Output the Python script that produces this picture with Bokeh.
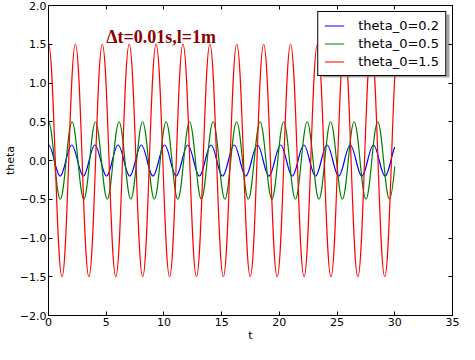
from bokeh.plotting import figure
from bokeh.models import (Range1d, LinearAxis, FixedTicker, Label, ColumnDataSource,
                          CustomJSTickFormatter, BoxAnnotation)
from bokeh.embed import file_html
from bokeh.resources import INLINE

# ---- data: times (s) and values (rad) of the extrema ----
# (last time in each list is the next extremum just past the end of the run)
T_END = 30.0

BLUE_T = [0.00, 1.01, 2.01, 3.02, 4.02, 5.03, 6.03, 7.04, 8.04, 9.05, 10.06,
          11.06, 12.07, 13.07, 14.08, 15.08, 16.09, 17.09, 18.10, 19.10, 20.11,
          21.12, 22.12, 23.13, 24.13, 25.14, 26.14, 27.15, 28.15, 29.16, 30.17]
BLUE_V = [0.2, -0.2, 0.2, -0.2, 0.2, -0.2, 0.2, -0.2, 0.2, -0.2, 0.2,
          -0.2, 0.2, -0.2, 0.2, -0.2, 0.2, -0.2, 0.2, -0.2, 0.2,
          -0.2, 0.2, -0.2, 0.2, -0.2, 0.2, -0.2, 0.2, -0.2, 0.2]

GREEN_T = [0.00, 1.02, 2.04, 3.06, 4.07, 5.09, 6.11, 7.13, 8.15, 9.17, 10.19,
           11.20, 12.22, 13.24, 14.26, 15.28, 16.30, 17.31, 18.33, 19.35, 20.37,
           21.39, 22.41, 23.43, 24.44, 25.46, 26.48, 27.50, 28.52, 29.54, 30.56]
GREEN_V = [0.5, -0.5, 0.5, -0.5, 0.5, -0.5, 0.5, -0.5, 0.5, -0.5, 0.5,
           -0.5, 0.5, -0.5, 0.5, -0.5, 0.5, -0.5, 0.5, -0.5, 0.5,
           -0.5, 0.5, -0.5, 0.5, -0.5, 0.5, -0.5, 0.5, -0.5, 0.5]

RED_T = [0.00, 1.17, 2.33, 3.50, 4.66, 5.83, 6.99, 8.16, 9.32, 10.49, 11.65,
         12.82, 13.98, 15.15, 16.31, 17.48, 18.64, 19.81, 20.97, 22.14, 23.30,
         24.47, 25.63, 26.80, 27.96, 29.13, 30.29]
RED_V = [1.5, -1.5, 1.5, -1.5, 1.5, -1.5, 1.5, -1.5, 1.5, -1.5, 1.5,
         -1.5, 1.5, -1.5, 1.5, -1.5, 1.5, -1.5, 1.5, -1.5, 1.5,
         -1.5, 1.5, -1.5, 1.5, -1.5, 1.5]

LABELS = ["theta_0=0.2", "theta_0=0.5", "theta_0=1.5"]
COLORS = ["#0000ff", "#008000", "#ff0000"]
SHAPE = [0.3634, 0.365, 0.40]   # bezier handle fraction (wave shape)

X_TICKS = [0, 5, 10, 15, 20, 25, 30, 35]
Y_TICKS = [-2.0, -1.5, -1.0, -0.5, 0.0, 0.5, 1.0, 1.5, 2.0]
Y_TICK_LABELS = ["\u22122.0", "\u22121.5", "\u22121.0", "\u22120.5", "0.0",
                 "0.5", "1.0", "1.5", "2.0"]
NOTE = "\u0394t=0.01s,l=1m"
X0, X1, Y0, Y1 = 0, 35, -2, 2

# ---- layout (pixels) ----
W, H = 459, 344
B_LEFT, B_RIGHT, B_TOP, B_BOTTOM = 48, 7, 5, 29
LEG_MARGIN, LEG_PAD, LEG_GLYPH_W, LEG_STANDOFF, LEG_ROW, LEG_SPACING = 6, 6, 20, 14, 15, 3
LEG_TEXT_W = 81          # measured width of "theta_0=0.2" at 13px
SHADOW = 3


def lerp(a, b, s):
    return (a[0] + (b[0] - a[0]) * s, a[1] + (b[1] - a[1]) * s)


def bez_x(x0, x1, x2, x3, s):
    u = 1 - s
    return u * u * u * x0 + 3 * u * u * s * x1 + 3 * u * s * s * x2 + s * s * s * x3


def segments(ts, vs, a, t_end):
    d = {k: [] for k in ("x0", "y0", "x1", "y1", "cx0", "cy0", "cx1", "cy1")}
    for i in range(len(ts) - 1):
        P0 = (ts[i], vs[i])
        P3 = (ts[i + 1], vs[i + 1])
        if P0[0] >= t_end:
            break
        h = P3[0] - P0[0]
        P1 = (P0[0] + a * h, P0[1])
        P2 = (P3[0] - a * h, P3[1])
        if P3[0] > t_end:
            lo, hi = 0.0, 1.0
            for _ in range(60):
                mid = (lo + hi) / 2
                if bez_x(P0[0], P1[0], P2[0], P3[0], mid) < t_end:
                    lo = mid
                else:
                    hi = mid
            s = (lo + hi) / 2
            P01 = lerp(P0, P1, s)
            P12 = lerp(P1, P2, s)
            P23 = lerp(P2, P3, s)
            P012 = lerp(P01, P12, s)
            P123 = lerp(P12, P23, s)
            P0123 = lerp(P012, P123, s)
            P1, P2, P3 = P01, P012, P0123
        d["x0"].append(P0[0]); d["y0"].append(P0[1])
        d["cx0"].append(P1[0]); d["cy0"].append(P1[1])
        d["cx1"].append(P2[0]); d["cy1"].append(P2[1])
        d["x1"].append(P3[0]); d["y1"].append(P3[1])
    return ColumnDataSource(d)


FONT = "DejaVu Sans"

p = figure(width=W, height=H, output_backend="svg", toolbar_location=None,
           x_range=Range1d(X0, X1), y_range=Range1d(Y0, Y1),
           x_axis_label="t", y_axis_label="theta",
           min_border_left=B_LEFT, min_border_right=B_RIGHT,
           min_border_top=B_TOP, min_border_bottom=B_BOTTOM)
p.xgrid.visible = False
p.ygrid.visible = False
p.outline_line_color = "black"
p.outline_line_alpha = 1.0
p.background_fill_color = "white"
p.border_fill_color = "white"

series = [(BLUE_T, BLUE_V), (GREEN_T, GREEN_V), (RED_T, RED_V)]
for (ts, vs), lab, col, a in zip(series, LABELS, COLORS, SHAPE):
    src = segments(ts, vs, a, T_END)
    p.bezier(x0="x0", y0="y0", x1="x1", y1="y1", cx0="cx0", cy0="cy0",
             cx1="cx1", cy1="cy1", source=src, line_color=col, line_width=1.2,
             legend_label=lab)

p.xaxis.ticker = FixedTicker(ticks=X_TICKS)
p.yaxis.ticker = FixedTicker(ticks=Y_TICKS)
p.yaxis.major_label_overrides = {v: s for v, s in zip(Y_TICKS, Y_TICK_LABELS)}

for ax in (p.xaxis[0], p.yaxis[0]):
    ax.major_tick_in = 4
    ax.major_tick_out = 0
    ax.minor_tick_in = 0
    ax.minor_tick_out = 0
    ax.axis_line_color = "black"
    ax.major_tick_line_color = "black"
    ax.major_label_text_font = FONT
    ax.major_label_text_font_size = "11px"
    ax.major_label_text_color = "black"
    ax.axis_label_text_font = FONT
    ax.axis_label_text_font_size = "11px"
    ax.axis_label_text_font_style = "normal"
    ax.axis_label_text_color = "black"
p.xaxis.major_label_standoff = 2
p.xaxis.axis_label_standoff = 0
p.yaxis.major_label_standoff = 2
p.yaxis.axis_label_standoff = 0

for loc, ticks in (("right", Y_TICKS), ("above", X_TICKS)):
    ax = LinearAxis(ticker=FixedTicker(ticks=ticks),
                    formatter=CustomJSTickFormatter(code="return ''"),
                    major_tick_in=4, major_tick_out=0, minor_tick_in=0, minor_tick_out=0,
                    major_label_standoff=0, major_label_text_font_size="1px",
                    axis_label_standoff=0,
                    axis_line_color="black", major_tick_line_color="black")
    p.add_layout(ax, loc)

p.add_layout(Label(x=5, y=1.6, text=NOTE, text_font="Liberation Serif",
                   text_font_size="18px", text_font_style="bold",
                   text_color="#8b0000", text_baseline="alphabetic"))

# legend shadow (matplotlib style), placed from the layout constants
fw = W - B_LEFT - B_RIGHT
fh = H - B_TOP - B_BOTTOM
sx = (X1 - X0) / fw
sy = (Y1 - Y0) / fh
leg_w = 2 * LEG_PAD + LEG_GLYPH_W + LEG_STANDOFF + LEG_TEXT_W
leg_h = 2 * LEG_PAD + 3 * LEG_ROW + 2 * LEG_SPACING
r_px = fw - LEG_MARGIN + SHADOW
l_px = r_px - leg_w
t_px = LEG_MARGIN + SHADOW
b_px = t_px + leg_h
p.add_layout(BoxAnnotation(left=X0 + l_px * sx, right=X0 + r_px * sx,
                           top=Y1 - t_px * sy, bottom=Y1 - b_px * sy,
                           fill_color="#4d4d4d", fill_alpha=0.5, line_color=None,
                           level="glyph"))

lg = p.legend[0]
lg.location = "top_right"
lg.margin = LEG_MARGIN
lg.padding = LEG_PAD
lg.spacing = LEG_SPACING
lg.glyph_width = LEG_GLYPH_W
lg.glyph_height = LEG_ROW
lg.label_height = LEG_ROW
lg.label_width = 20
lg.label_standoff = LEG_STANDOFF
lg.label_text_font = FONT
lg.label_text_font_size = "13px"
lg.label_text_color = "black"
lg.border_line_color = "black"
lg.border_line_width = 1
lg.border_line_alpha = 1.0
lg.background_fill_color = "white"
lg.background_fill_alpha = 1.0

open("out.html", "w").write(file_html(p, INLINE))
